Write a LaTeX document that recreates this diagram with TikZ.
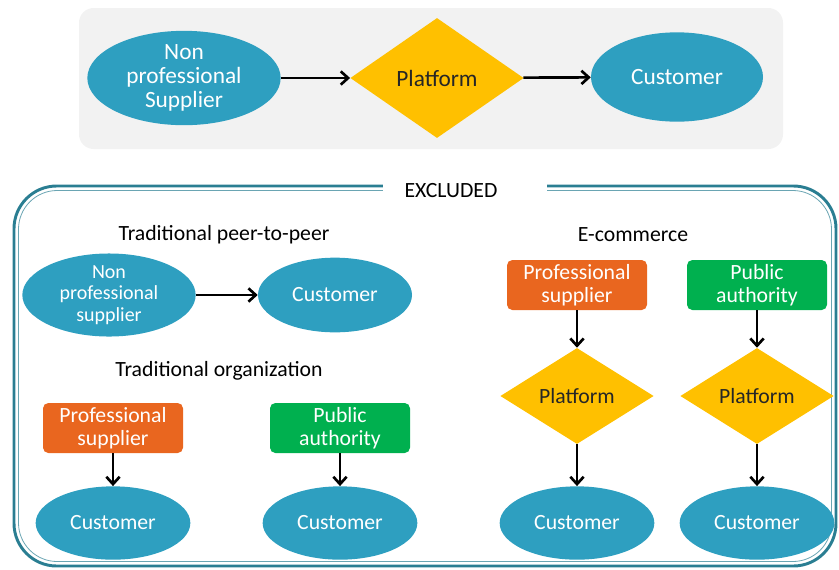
\documentclass[tikz,border=0pt]{standalone}
\usepackage{fontspec}
\setmainfont{Carlito}
\usetikzlibrary{shapes.geometric,arrows.meta}
\definecolor{blobblue}{HTML}{2E9FC0}
\definecolor{gemgold}{HTML}{FFC000}
\definecolor{tagorange}{HTML}{E9661F}
\definecolor{taggreen}{HTML}{00B04F}
\definecolor{panelgray}{HTML}{F2F2F2}
\definecolor{framecol}{HTML}{2A7E92}

\begin{document}
\begin{tikzpicture}[
    x=0.75pt,y=-0.75pt,
    blob/.style={ellipse,fill=blobblue,text=white,inner sep=0pt,align=center},
    gem/.style={diamond,fill=gemgold,text=black!85,inner sep=0pt,align=center},
    tag/.style={rounded corners=4pt,inner sep=0pt,text=white,align=center,
      minimum width=105pt,minimum height=37.5pt},
    flow/.style={-{Straight Barb[length=5.5pt,width=10pt]},line width=2pt},
    big/.style={font=\fontsize{17.5}{18}\selectfont},
    small/.style={font=\fontsize{16.3}{17}\selectfont}
    ]
\useasboundingbox (0,0) rectangle (839,569);
% included case
\fill[panelgray,rounded corners=11pt] (79,8) rectangle (783,149);
\node[blob,big,minimum width=145pt,minimum height=63pt] (nps) at (184,78) {Non\\professional\\Supplier};
\node[gem,big,minimum width=130pt,minimum height=90pt] (plat) at (437,78) {Platform};
\node[blob,big,minimum width=129pt,minimum height=67pt] (cust) at (677,77) {Customer};
\draw[flow] (nps) -- (plat);
\draw[flow] (plat) -- (cust);

% excluded cases
\draw[framecol,line width=2.2pt,rounded corners=32pt] (14,186) rectangle (836,566);
\draw[framecol!70,line width=0.6pt,rounded corners=29pt] (18.5,190.5) rectangle (831.5,561.5);
\fill[white] (383,180) rectangle (547,196);
\node[small] (excl) at (451,191) {EXCLUDED};

\node[small] (ptp) at (224,235) {Traditional peer-to-peer};
\node[blob,font=\fontsize{15}{16}\selectfont,minimum width=130pt,minimum height=56pt] (nps2) at (109,295) {Non\\professional\\supplier};
\node[blob,small,minimum width=115.5pt,minimum height=56pt] (c1) at (335,295) {Customer};
\draw[flow] (nps2) -- (c1);

\node[small] (torg) at (219,371) {Traditional organization};
\node[tag,small,fill=tagorange] (ps1) at (113,428) {Professional\\supplier};
\node[tag,small,fill=taggreen] (pa1) at (340,428) {Public\\authority};
\node[blob,small,minimum width=116pt,minimum height=55pt] (c2) at (113,523) {Customer};
\node[blob,small,minimum width=116pt,minimum height=55pt] (c3) at (340,523) {Customer};
\draw[flow] (ps1) -- (c2);
\draw[flow] (pa1) -- (c3);

\node[small] (ecom) at (633,235) {E-commerce};
\node[tag,small,fill=tagorange] (ps2) at (577,285) {Professional\\supplier};
\node[tag,small,fill=taggreen] (pa2) at (757,285) {Public\\authority};
\node[gem,small,minimum width=115pt,minimum height=72pt] (p2) at (577,396) {Platform};
\node[gem,small,minimum width=115pt,minimum height=72pt] (p3) at (757,396) {Platform};
\node[blob,small,minimum width=116pt,minimum height=55pt] (c4) at (577,523) {Customer};
\node[blob,small,minimum width=116pt,minimum height=55pt] (c5) at (757,523) {Customer};
\draw[flow] (ps2) -- (p2);
\draw[flow] (pa2) -- (p3);
\draw[flow] (p2) -- (c4);
\draw[flow] (p3) -- (c5);
\end{tikzpicture}
\end{document}
